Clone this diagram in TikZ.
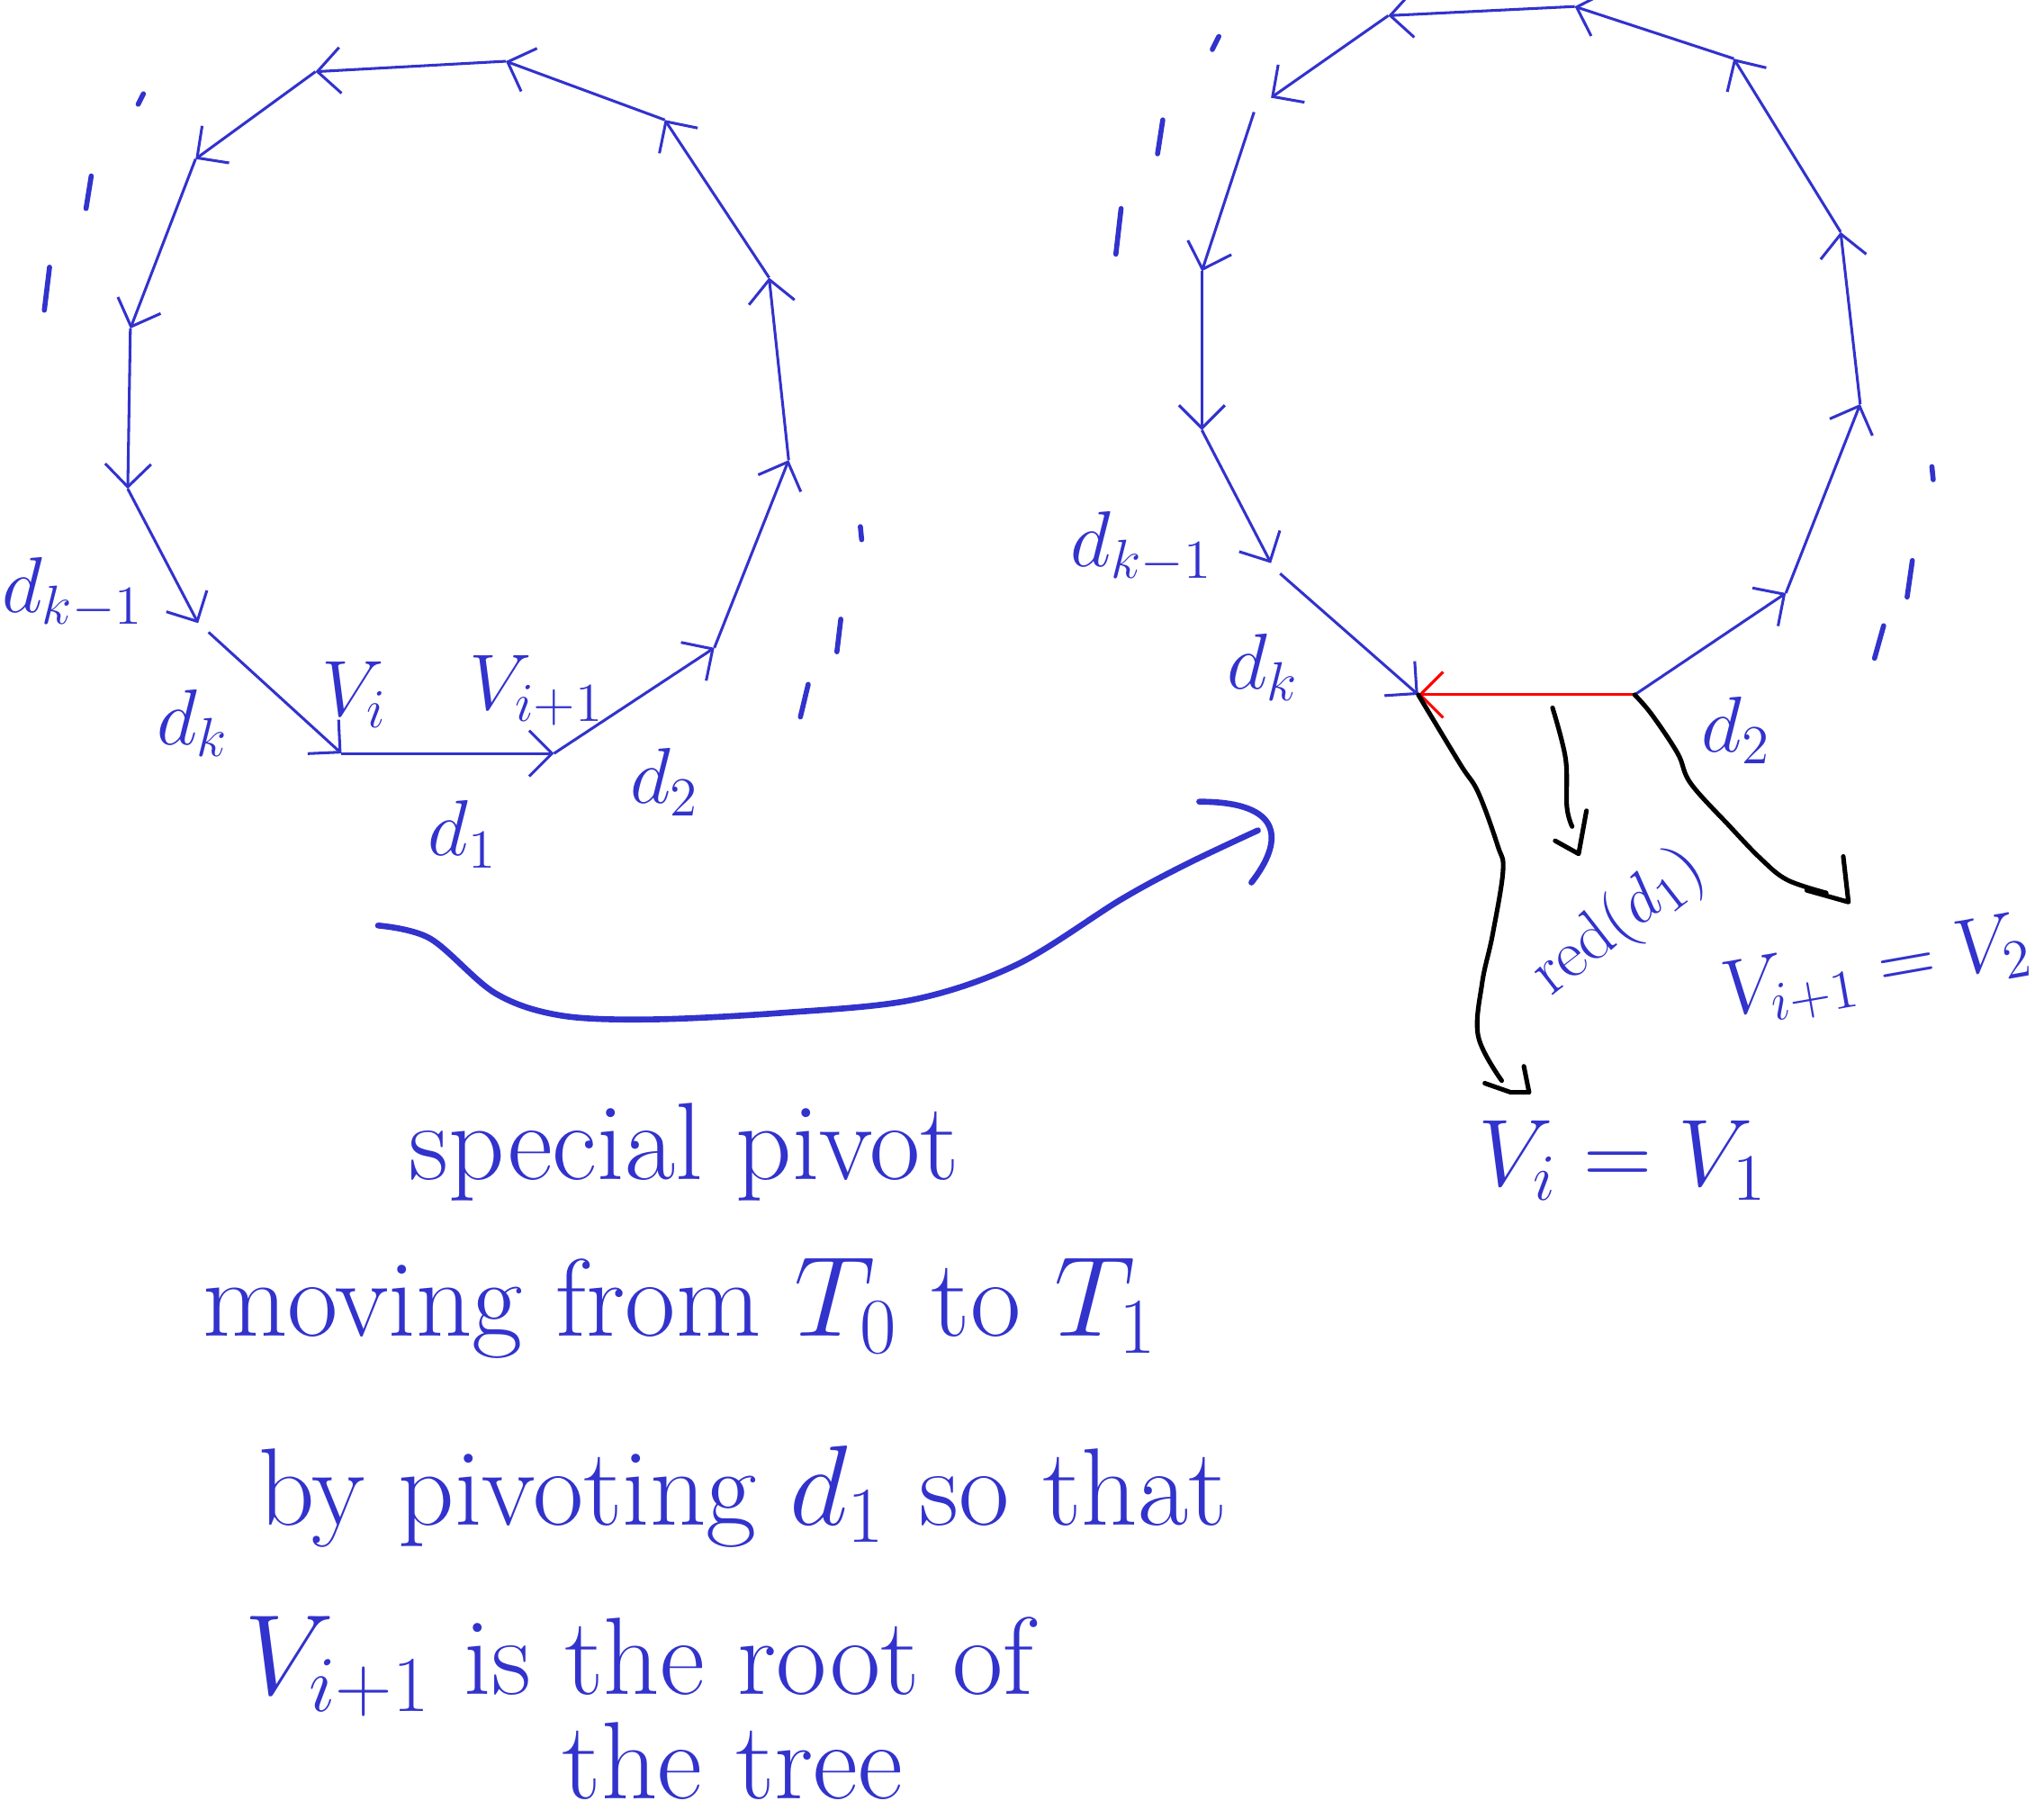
\documentclass[tikz,border=0pt]{standalone}
\usetikzlibrary{arrows.meta}
\definecolor{pen}{RGB}{50,50,205}
\begin{document}
\begin{tikzpicture}[x=0.01cm,y=-0.01cm,
  edge/.style={draw=pen,line width=0.6pt,-{Straight Barb[length=5pt,width=10pt,line width=0.6pt]}},
  redge/.style={draw=red,line width=0.6pt,-{Straight Barb[length=5pt,width=10pt,line width=0.6pt]}},
  tick/.style={draw=pen,line width=1.1pt,line cap=round},
  lab/.style={text=pen,font=\fontsize{17}{20}\selectfont,inner sep=0pt},
  txt/.style={text=pen,font=\fontsize{24}{28}\selectfont,inner sep=0pt,anchor=base},
  ink/.style={draw=black,line width=1pt,line cap=round,line join=round},
  bigink/.style={draw=pen,line width=1.3pt,line cap=round,line join=round},
]
\useasboundingbox (0,0) rectangle (1568,1395);

% ---------- left polygon ----------
\coordinate (A0) at (262,578);
\coordinate (A1) at (425,578);
\coordinate (A2) at (548,497);
\coordinate (A3) at (605,353);
\coordinate (A4) at (590,213);
\coordinate (A5) at (510,92);
\coordinate (A6) at (388,47);
\coordinate (A7) at (242,55);
\coordinate (A8) at (150,122);
\coordinate (A9) at (100,252);
\coordinate (A10) at (98,375);
\coordinate (A11) at (152,478);
\coordinate (A11s) at (160,485);
\draw[edge] (A0) -- (A1);
\draw[edge] (A1) -- (A2);
\draw[edge] (A2) -- (A3);
\draw[edge] (A3) -- (A4);
\draw[edge] (A4) -- (A5);
\draw[edge] (A5) -- (A6);
\draw[edge] (A6) -- (A7);
\draw[edge] (A7) -- (A8);
\draw[edge] (A8) -- (A9);
\draw[edge] (A9) -- (A10);
\draw[edge] (A10) -- (A11);
\draw[edge] (A11s) -- (A0);

% dashes (left polygon)
\draw[tick] (110,72) -- (106,80);
\draw[tick] (70,135) -- (66,160);
\draw[tick] (38,205) -- (34,238);
\draw[tick] (660,404) -- (661,414);
\draw[tick] (645,475) -- (642,500);
\draw[tick] (620,525) -- (614,550);

% labels (left)
\node[lab] (ldk1) at (56,455) {$d_{k-1}$};
\node[lab] (ldk) at (148,555) {$d_k$};
\node[lab] (lvi) at (272,533) {$V_i$};
\node[lab] (lvi1) at (412,530) {$V_{i+1}$};
\node[lab] (ld1) at (355,640) {$d_1$};
\node[lab] (ld2) at (510,600) {$d_2$};

% ---------- right polygon ----------
\coordinate (B0) at (1088,533);
\coordinate (B1) at (1254,533);
\coordinate (B2) at (1370,455);
\coordinate (B3) at (1427,310);
\coordinate (B4) at (1412,178);
\coordinate (B5) at (1330,45);
\coordinate (B6) at (1208,5);
\coordinate (B7) at (1065,12);
\coordinate (B8) at (975,75);
\coordinate (B8s) at (962,86);
\coordinate (B9) at (922,208);
\coordinate (B10) at (922,330);
\coordinate (B11) at (975,432);
\coordinate (B11s) at (982,440);
\draw[redge] (B1) -- (B0);
\draw[edge] (B1) -- (B2);
\draw[edge] (B2) -- (B3);
\draw[edge] (B3) -- (B4);
\draw[edge] (B4) -- (B5);
\draw[edge] (B5) -- (B6);
\draw[edge] (B6) -- (B7);
\draw[edge] (B7) -- (B8);
\draw[edge] (B8s) -- (B9);
\draw[edge] (B9) -- (B10);
\draw[edge] (B10) -- (B11);
\draw[edge] (B11s) -- (B0);

% dashes (right polygon)
\draw[tick] (935,28) -- (930,38);
\draw[tick] (892,92) -- (888,118);
\draw[tick] (860,160) -- (856,195);
\draw[tick] (1482,358) -- (1483,368);
\draw[tick] (1467,430) -- (1463,458);
\draw[tick] (1445,480) -- (1438,505);

% labels (right)
\node[lab] (rdk1) at (876,420) {$d_{k-1}$};
\node[lab] (rdk) at (969,512) {$d_k$};
\node[lab] (rd2) at (1332,560) {$d_2$};

% black hand-drawn arrows
\coordinate (C1e) at (1152,829);
\draw[ink] plot[smooth,tension=0.6] coordinates {(B0) (1120,586) (1134,608) (1149,649) (1153,668) (1145,717) (1137,754) (1134,795) (C1e)};
\draw[ink] (1139,831) -- (1159,838) -- (1173,838) -- (1169,818);
\coordinate (C2s) at (1191,543);
\coordinate (C2e) at (1206,634);
\draw[ink] plot[smooth,tension=0.6] coordinates {(C2s) (1201,582) (1202,619) (C2e)};
\draw[ink] (1193,645) -- (1211,655) -- (1217,622);
\coordinate (C3e) at (1401,685);
\draw[ink] plot[smooth,tension=0.6] coordinates {(B1) (1267,548) (1287,578) (1297,601) (1327,634) (1351,659) (1371,675) (C3e)};
\draw[ink] (1386,683) -- (1418,692) -- (1414,657);

\node[lab,rotate=38,font=\fontsize{15}{18}\selectfont] (red) at (1242,708) {red$(d_1)$};
\node[lab,rotate=10,font=\fontsize{18}{22}\selectfont] (vi1v2) at (1440,745) {$V_{i+1}=V_2$};
\node[lab,font=\fontsize{20}{24}\selectfont] (viv1) at (1245,890) {$V_i=V_1$};

% big curved arrow
\coordinate (S) at (290,710);
\coordinate (E) at (965,637);
\draw[bigink] plot[smooth,tension=0.55] coordinates {(S) (330,720) (380,762) (430,779) (500,782) (600,777) (700,767) (780,740) (860,690) (910,663) (E)};
\draw[bigink] (920,615) .. controls (985,615) and (985,645) .. (960,677);

% text
\node[txt] (t1) at (525,905) {special pivot};
\node[txt] (t2) at (522,1025) {moving from $T_0$ to $T_1$};
\node[txt] (t3) at (570,1170) {by pivoting $d_1$ so that};
\node[txt] (t4) at (490,1300) {$V_{i+1}$ is the root of};
\node[txt] (t5) at (562,1380) {the tree};
\end{tikzpicture}
\end{document}
